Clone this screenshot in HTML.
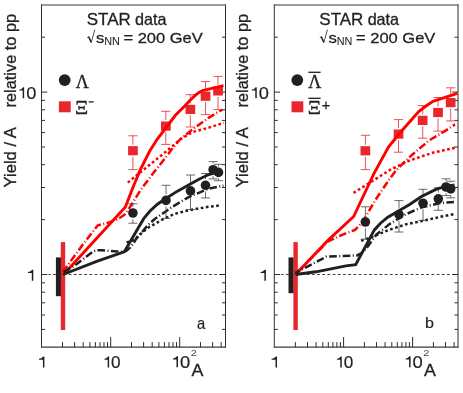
<!DOCTYPE html>
<html><head><meta charset="utf-8"><title>STAR data</title>
<style>
html,body{margin:0;padding:0;background:#fff;}
body{width:463px;height:393px;overflow:hidden;font-family:"Liberation Sans",sans-serif;}
svg{display:block;will-change:transform;}
</style></head><body>
<svg width="463" height="393" viewBox="0 0 463 393">
<rect width="463" height="393" fill="#fff"/>
<g transform="translate(0,0)">
<path d="M41.5,4.5 V347.6 M225.5,4.5 V347.6" fill="none" stroke="#2e2e2e" stroke-width="1"/>
<path d="M41.0,5.0 H226.0 M41.0,347.1 H226.0" fill="none" stroke="#3a3a3a" stroke-width="1.1"/>
<line x1="62.5" x2="62.5" y1="347.1" y2="342.1" stroke="#2e2e2e" stroke-width="1"/>
<line x1="74.6" x2="74.6" y1="347.1" y2="342.1" stroke="#2e2e2e" stroke-width="1"/>
<line x1="83.2" x2="83.2" y1="347.1" y2="342.1" stroke="#2e2e2e" stroke-width="1"/>
<line x1="89.9" x2="89.9" y1="347.1" y2="342.1" stroke="#2e2e2e" stroke-width="1"/>
<line x1="95.4" x2="95.4" y1="347.1" y2="342.1" stroke="#2e2e2e" stroke-width="1"/>
<line x1="100.0" x2="100.0" y1="347.1" y2="342.1" stroke="#2e2e2e" stroke-width="1"/>
<line x1="104.0" x2="104.0" y1="347.1" y2="342.1" stroke="#2e2e2e" stroke-width="1"/>
<line x1="107.5" x2="107.5" y1="347.1" y2="342.1" stroke="#2e2e2e" stroke-width="1"/>
<line x1="110.7" x2="110.7" y1="347.1" y2="337.1" stroke="#2e2e2e" stroke-width="1"/>
<line x1="131.5" x2="131.5" y1="347.1" y2="342.1" stroke="#2e2e2e" stroke-width="1"/>
<line x1="143.6" x2="143.6" y1="347.1" y2="342.1" stroke="#2e2e2e" stroke-width="1"/>
<line x1="152.2" x2="152.2" y1="347.1" y2="342.1" stroke="#2e2e2e" stroke-width="1"/>
<line x1="158.9" x2="158.9" y1="347.1" y2="342.1" stroke="#2e2e2e" stroke-width="1"/>
<line x1="164.4" x2="164.4" y1="347.1" y2="342.1" stroke="#2e2e2e" stroke-width="1"/>
<line x1="169.0" x2="169.0" y1="347.1" y2="342.1" stroke="#2e2e2e" stroke-width="1"/>
<line x1="173.0" x2="173.0" y1="347.1" y2="342.1" stroke="#2e2e2e" stroke-width="1"/>
<line x1="176.5" x2="176.5" y1="347.1" y2="342.1" stroke="#2e2e2e" stroke-width="1"/>
<line x1="179.7" x2="179.7" y1="347.1" y2="337.1" stroke="#2e2e2e" stroke-width="1"/>
<line x1="200.5" x2="200.5" y1="347.1" y2="342.1" stroke="#2e2e2e" stroke-width="1"/>
<line x1="212.6" x2="212.6" y1="347.1" y2="342.1" stroke="#2e2e2e" stroke-width="1"/>
<line x1="221.2" x2="221.2" y1="347.1" y2="342.1" stroke="#2e2e2e" stroke-width="1"/>
<line x1="41.5" x2="45.0" y1="329.4" y2="329.4" stroke="#2e2e2e" stroke-width="1"/>
<line x1="225.5" x2="222.0" y1="329.4" y2="329.4" stroke="#2e2e2e" stroke-width="1"/>
<line x1="41.5" x2="45.0" y1="315.0" y2="315.0" stroke="#2e2e2e" stroke-width="1"/>
<line x1="225.5" x2="222.0" y1="315.0" y2="315.0" stroke="#2e2e2e" stroke-width="1"/>
<line x1="41.5" x2="45.0" y1="302.8" y2="302.8" stroke="#2e2e2e" stroke-width="1"/>
<line x1="225.5" x2="222.0" y1="302.8" y2="302.8" stroke="#2e2e2e" stroke-width="1"/>
<line x1="41.5" x2="45.0" y1="292.2" y2="292.2" stroke="#2e2e2e" stroke-width="1"/>
<line x1="225.5" x2="222.0" y1="292.2" y2="292.2" stroke="#2e2e2e" stroke-width="1"/>
<line x1="41.5" x2="45.0" y1="282.8" y2="282.8" stroke="#2e2e2e" stroke-width="1"/>
<line x1="225.5" x2="222.0" y1="282.8" y2="282.8" stroke="#2e2e2e" stroke-width="1"/>
<line x1="41.5" x2="47.3" y1="274.5" y2="274.5" stroke="#2e2e2e" stroke-width="1"/>
<line x1="225.5" x2="219.7" y1="274.5" y2="274.5" stroke="#2e2e2e" stroke-width="1"/>
<line x1="41.5" x2="45.0" y1="219.6" y2="219.6" stroke="#2e2e2e" stroke-width="1"/>
<line x1="225.5" x2="222.0" y1="219.6" y2="219.6" stroke="#2e2e2e" stroke-width="1"/>
<line x1="41.5" x2="45.0" y1="187.5" y2="187.5" stroke="#2e2e2e" stroke-width="1"/>
<line x1="225.5" x2="222.0" y1="187.5" y2="187.5" stroke="#2e2e2e" stroke-width="1"/>
<line x1="41.5" x2="45.0" y1="164.7" y2="164.7" stroke="#2e2e2e" stroke-width="1"/>
<line x1="225.5" x2="222.0" y1="164.7" y2="164.7" stroke="#2e2e2e" stroke-width="1"/>
<line x1="41.5" x2="45.0" y1="147.0" y2="147.0" stroke="#2e2e2e" stroke-width="1"/>
<line x1="225.5" x2="222.0" y1="147.0" y2="147.0" stroke="#2e2e2e" stroke-width="1"/>
<line x1="41.5" x2="45.0" y1="132.6" y2="132.6" stroke="#2e2e2e" stroke-width="1"/>
<line x1="225.5" x2="222.0" y1="132.6" y2="132.6" stroke="#2e2e2e" stroke-width="1"/>
<line x1="41.5" x2="45.0" y1="120.4" y2="120.4" stroke="#2e2e2e" stroke-width="1"/>
<line x1="225.5" x2="222.0" y1="120.4" y2="120.4" stroke="#2e2e2e" stroke-width="1"/>
<line x1="41.5" x2="45.0" y1="109.8" y2="109.8" stroke="#2e2e2e" stroke-width="1"/>
<line x1="225.5" x2="222.0" y1="109.8" y2="109.8" stroke="#2e2e2e" stroke-width="1"/>
<line x1="41.5" x2="45.0" y1="100.4" y2="100.4" stroke="#2e2e2e" stroke-width="1"/>
<line x1="225.5" x2="222.0" y1="100.4" y2="100.4" stroke="#2e2e2e" stroke-width="1"/>
<line x1="41.5" x2="47.3" y1="92.1" y2="92.1" stroke="#2e2e2e" stroke-width="1"/>
<line x1="225.5" x2="219.7" y1="92.1" y2="92.1" stroke="#2e2e2e" stroke-width="1"/>
<line x1="41.5" x2="45.0" y1="37.2" y2="37.2" stroke="#2e2e2e" stroke-width="1"/>
<line x1="225.5" x2="222.0" y1="37.2" y2="37.2" stroke="#2e2e2e" stroke-width="1"/>
<line x1="48.4" x2="225.5" y1="274.5" y2="274.5" stroke="#231f20" stroke-width="0.85" stroke-dasharray="2.9,2.3" stroke-dashoffset="0.6"/>
<path d="M24.15,98.20 L22.68,98.20 L22.68,90.46 L19.20,90.46 L19.20,89.53 L21.18,89.15 L23.09,87.30 L24.15,87.30 Z" fill="#231f20"/><text transform="translate(26.18,98.50) scale(1.142,1.044)" font-family="Liberation Sans, sans-serif" font-size="16" fill="#231f20" stroke="#231f20" stroke-width="0.2">0</text>
<path d="M33.30,280.80 L31.80,280.80 L31.80,272.92 L28.00,272.92 L28.00,271.98 L30.12,271.59 L32.22,269.70 L33.30,269.70 Z" fill="#231f20"/>
<path d="M44.40,367.40 L42.93,367.40 L42.93,359.66 L39.00,359.66 L39.00,358.73 L41.16,358.35 L43.34,356.50 L44.40,356.50 Z" fill="#231f20"/>
<path d="M109.15,367.40 L107.68,367.40 L107.68,359.66 L104.50,359.66 L104.50,358.73 L106.36,358.35 L108.09,356.50 L109.15,356.50 Z" fill="#231f20"/><text transform="translate(111.06,367.70) scale(1.072,1.044)" font-family="Liberation Sans, sans-serif" font-size="16" fill="#231f20" stroke="#231f20" stroke-width="0.2">0</text>
<path d="M177.98,367.20 L176.49,367.20 L176.49,359.39 L173.00,359.39 L173.00,358.45 L174.99,358.07 L176.91,356.20 L177.98,356.20 Z" fill="#231f20"/><text transform="translate(180.02,367.50) scale(1.149,1.053)" font-family="Liberation Sans, sans-serif" font-size="16" fill="#231f20" stroke="#231f20" stroke-width="0.2">0</text>
<text transform="translate(190.68,356.40) scale(0.690,0.524)" font-family="Liberation Sans, sans-serif" font-size="16" fill="#231f20" stroke="#231f20" stroke-width="0" fill-opacity="0.85">2</text>
<text transform="translate(191.50,375.80) scale(1.114,1.031)" font-family="Liberation Sans, sans-serif" font-size="16" fill="#231f20" stroke="#231f20" stroke-width="0.3">A</text>
<text transform="translate(86.70,24.50) scale(1.062,0.978)" font-family="Liberation Sans, sans-serif" font-size="16" fill="#231f20" stroke="#231f20" stroke-width="0.3">STAR</text>
<text transform="translate(135.04,24.50) scale(1.010,0.979)" font-family="Liberation Sans, sans-serif" font-size="16" fill="#231f20" stroke="#231f20" stroke-width="0.3">data</text>
<path d="M87.2,37.7 L88.7,36.7" stroke="#231f20" stroke-width="0.8" fill="none"/><path d="M88.6,36.6 L91.2,42.2" stroke="#231f20" stroke-width="1.5" fill="none"/><path d="M91.1,43 L94.8,29.6" stroke="#231f20" stroke-width="0.8" fill="none"/>
<text transform="translate(95.98,43.00) scale(1.043,0.953)" font-family="Liberation Sans, sans-serif" font-size="16" fill="#231f20" stroke="#231f20" stroke-width="0.3">s</text>
<text transform="translate(104.15,45.40) scale(0.678,0.631)" font-family="Liberation Sans, sans-serif" font-size="16" fill="#231f20" stroke="#231f20" stroke-width="0.1">NN</text>
<text transform="translate(123.43,42.90) scale(1.032,0.969)" font-family="Liberation Sans, sans-serif" font-size="16" fill="#231f20" stroke="#231f20" stroke-width="0.3">= 200 GeV</text>
<text transform="translate(15.70,187.42) rotate(-90) scale(1.037,1.047)" font-family="Liberation Sans, sans-serif" font-size="16" fill="#231f20" stroke="#231f20" stroke-width="0.3">Yield / A</text>
<text transform="translate(15.80,107.42) rotate(-90) scale(1.021,1.013)" font-family="Liberation Sans, sans-serif" font-size="16" fill="#231f20" stroke="#231f20" stroke-width="0.3">relative to pp</text>
<text transform="translate(196.91,328.90) scale(0.921,1.012)" font-family="Liberation Sans, sans-serif" font-size="16" fill="#231f20" stroke="#231f20" stroke-width="0.2">a</text>
<circle cx="64.7" cy="80.1" r="5.9" fill="#231f20"/>
<rect x="58.9" y="101.3" width="11.8" height="11" fill="#e8262c"/>
<text transform="translate(75.72,87.70) scale(1.129,1.181)" font-family="Liberation Serif, serif" font-size="16" fill="#231f20" stroke="#231f20" stroke-width="0.3">Λ</text>
<text transform="translate(75.04,114.00) scale(1.280,1.200)" font-family="Liberation Serif, serif" font-size="16" fill="#231f20" stroke="#231f20" stroke-width="0.3">Ξ</text>
<line x1="88.7" x2="93.7" y1="101.9" y2="101.9" stroke="#231f20" stroke-width="1.3"/>
<rect x="55.9" y="257.4" width="5.2" height="38.8" fill="#231f20"/>
<rect x="60.8" y="242.1" width="4.4" height="87.9" fill="#e8262c"/>
<path d="M127.8,182.6 L138.0,174.2 L150.7,164.0 L168.5,149.5 L180.0,139.5 L192.0,132.3 L209.8,127.3 L223.8,122.9" fill="none" stroke="#ff0000" stroke-width="2.5" stroke-linejoin="round" stroke-miterlimit="3" stroke-dasharray="2.7,2.5" stroke-dashoffset="0"/>
<path d="M62.5,272.4 L81.4,246.4 L97.7,225.4 L108.9,222.5 L118.0,219.0 L124.5,214.8 L128.8,208.8 L141.0,189.4 L154.5,171.6 L168.5,153.8 L171.5,149.5 L180.0,139.5 L192.0,129.8 L208.5,117.8 L222.5,109.5" fill="none" stroke="#ff0000" stroke-width="2.5" stroke-linejoin="round" stroke-miterlimit="3" stroke-dasharray="7.6,2.45,1.0,2.45" stroke-dashoffset="13.07"/>
<path d="M128.3,135.8 H137.5 M128.3,169.6 H137.5 M132.9,135.8 V144.7 M132.9,156.7 V169.6" stroke="#e8262c" stroke-width="0.8" fill="none"/>
<path d="M161.2,111.3 H170.4 M161.2,144.4 H170.4 M165.8,111.3 V120.1 M165.8,132.1 V144.4" stroke="#e8262c" stroke-width="0.8" fill="none"/>
<path d="M185.7,94.7 H194.9 M185.7,127.0 H194.9 M190.3,94.7 V103.4 M190.3,115.4 V127.0" stroke="#e8262c" stroke-width="0.8" fill="none"/>
<path d="M200.9,81.6 H210.1 M200.9,114.6 H210.1 M205.5,81.6 V90.2 M205.5,102.2 V114.6" stroke="#e8262c" stroke-width="0.8" fill="none"/>
<path d="M213.4,76.4 H222.6 M213.4,109.6 H222.6 M218.0,76.4 V84.9 M218.0,96.9 V109.6" stroke="#e8262c" stroke-width="0.8" fill="none"/>
<rect x="128.1" y="146.1" width="9.7" height="9.2" fill="#e8262c"/>
<rect x="161.0" y="121.5" width="9.7" height="9.2" fill="#e8262c"/>
<rect x="185.5" y="104.8" width="9.7" height="9.2" fill="#e8262c"/>
<rect x="200.7" y="91.6" width="9.7" height="9.2" fill="#e8262c"/>
<rect x="213.2" y="86.3" width="9.7" height="9.2" fill="#e8262c"/>
<path d="M63.5,274.5 L125.4,206.9 L132.6,188.2 L140.0,170.4 L149.6,151.3 L157.5,138.8 L166.2,127.5 L175.4,115.3 L184.7,106.0 L189.6,100.8 L195.0,95.6 L198.5,92.7 L202.5,90.6 L223.5,85.6" fill="none" stroke="#ff0000" stroke-width="2.9" stroke-linejoin="miter" stroke-miterlimit="3" stroke-dashoffset="0"/>
<path d="M126.6,242.5 L132.0,240.6 L136.5,238.3 L142.2,232.5 L147.9,227.9 L154.8,223.9 L162.8,219.3 L175.0,213.7 L189.1,210.2 L208.2,206.8 L220.6,205.4" fill="none" stroke="#231f20" stroke-width="2.5" stroke-linejoin="round" stroke-miterlimit="3" stroke-dasharray="2.7,2.5" stroke-dashoffset="0"/>
<path d="M62.5,272.8 L76.4,264.3 L86.5,256.4 L93.0,251.6 L96.7,250.2 L102.0,250.3 L108.9,250.9 L117.0,251.5 L124.1,251.9 L127.0,250.4 L130.3,247.4 L133.5,243.3 L136.6,237.8 L140.0,233.8 L143.3,230.6 L147.9,225.0 L154.8,219.0 L165.0,212.0 L172.0,207.0 L189.1,196.9 L208.2,188.8 L223.5,185.6" fill="none" stroke="#231f20" stroke-width="2.5" stroke-linejoin="round" stroke-miterlimit="3" stroke-dasharray="7.6,2.45,1.0,2.45" stroke-dashoffset="12.07"/>
<path d="M128.4,203.8 H137.4 M128.4,223.2 H137.4 M132.9,203.8 V206.8 M132.9,219.2 V223.2" stroke="#454545" stroke-width="0.8" fill="none"/>
<path d="M161.5,185.3 H170.5 M161.5,218.4 H170.5 M166.0,185.3 V194.2 M166.0,206.6 V218.4" stroke="#454545" stroke-width="0.8" fill="none"/>
<path d="M186.0,175.0 H195.0 M186.0,209.5 H195.0 M190.5,175.0 V184.7 M190.5,197.1 V209.5" stroke="#454545" stroke-width="0.8" fill="none"/>
<path d="M201.0,173.5 H210.0 M201.0,197.9 H210.0 M205.5,173.5 V179.1 M205.5,191.5 V197.9" stroke="#454545" stroke-width="0.8" fill="none"/>
<path d="M208.6,161.6 H217.6 M208.6,178.9 H217.6 M213.1,161.6 V163.5 M213.1,175.9 V178.9" stroke="#454545" stroke-width="0.8" fill="none"/>
<path d="M214.0,164.3 H223.0 M214.0,180.7 H223.0 M218.5,164.3 V166.2 M218.5,178.6 V180.7" stroke="#454545" stroke-width="0.8" fill="none"/>
<circle cx="132.9" cy="213.0" r="4.8" fill="#231f20"/>
<circle cx="166.0" cy="200.4" r="4.8" fill="#231f20"/>
<circle cx="190.5" cy="190.9" r="4.8" fill="#231f20"/>
<circle cx="205.5" cy="185.3" r="4.8" fill="#231f20"/>
<circle cx="213.1" cy="169.7" r="4.8" fill="#231f20"/>
<circle cx="218.5" cy="172.4" r="4.8" fill="#231f20"/>
<path d="M63.0,274.5 L96.7,261.4 L124.2,251.9 L143.7,218.7 L150.0,211.0 L157.4,204.2 L165.5,198.8 L177.0,191.4 L189.1,184.7 L199.0,179.2 L208.2,174.8 L215.0,172.6 L222.0,171.2" fill="none" stroke="#231f20" stroke-width="2.9" stroke-linejoin="miter" stroke-miterlimit="3" stroke-dashoffset="0"/>
</g>
<g transform="translate(232.6,0)">
<path d="M41.7,4.5 V347.6 M225.4,4.5 V347.6" fill="none" stroke="#2e2e2e" stroke-width="1"/>
<path d="M41.2,5.0 H225.9 M41.2,347.1 H225.9" fill="none" stroke="#3a3a3a" stroke-width="1.1"/>
<line x1="62.8" x2="62.8" y1="347.1" y2="342.1" stroke="#2e2e2e" stroke-width="1"/>
<line x1="74.9" x2="74.9" y1="347.1" y2="342.1" stroke="#2e2e2e" stroke-width="1"/>
<line x1="83.5" x2="83.5" y1="347.1" y2="342.1" stroke="#2e2e2e" stroke-width="1"/>
<line x1="90.2" x2="90.2" y1="347.1" y2="342.1" stroke="#2e2e2e" stroke-width="1"/>
<line x1="95.7" x2="95.7" y1="347.1" y2="342.1" stroke="#2e2e2e" stroke-width="1"/>
<line x1="100.3" x2="100.3" y1="347.1" y2="342.1" stroke="#2e2e2e" stroke-width="1"/>
<line x1="104.3" x2="104.3" y1="347.1" y2="342.1" stroke="#2e2e2e" stroke-width="1"/>
<line x1="107.8" x2="107.8" y1="347.1" y2="342.1" stroke="#2e2e2e" stroke-width="1"/>
<line x1="111.0" x2="111.0" y1="347.1" y2="337.1" stroke="#2e2e2e" stroke-width="1"/>
<line x1="131.8" x2="131.8" y1="347.1" y2="342.1" stroke="#2e2e2e" stroke-width="1"/>
<line x1="143.9" x2="143.9" y1="347.1" y2="342.1" stroke="#2e2e2e" stroke-width="1"/>
<line x1="152.5" x2="152.5" y1="347.1" y2="342.1" stroke="#2e2e2e" stroke-width="1"/>
<line x1="159.2" x2="159.2" y1="347.1" y2="342.1" stroke="#2e2e2e" stroke-width="1"/>
<line x1="164.7" x2="164.7" y1="347.1" y2="342.1" stroke="#2e2e2e" stroke-width="1"/>
<line x1="169.3" x2="169.3" y1="347.1" y2="342.1" stroke="#2e2e2e" stroke-width="1"/>
<line x1="173.3" x2="173.3" y1="347.1" y2="342.1" stroke="#2e2e2e" stroke-width="1"/>
<line x1="176.8" x2="176.8" y1="347.1" y2="342.1" stroke="#2e2e2e" stroke-width="1"/>
<line x1="180.0" x2="180.0" y1="347.1" y2="337.1" stroke="#2e2e2e" stroke-width="1"/>
<line x1="200.8" x2="200.8" y1="347.1" y2="342.1" stroke="#2e2e2e" stroke-width="1"/>
<line x1="212.9" x2="212.9" y1="347.1" y2="342.1" stroke="#2e2e2e" stroke-width="1"/>
<line x1="221.5" x2="221.5" y1="347.1" y2="342.1" stroke="#2e2e2e" stroke-width="1"/>
<line x1="41.7" x2="45.2" y1="329.4" y2="329.4" stroke="#2e2e2e" stroke-width="1"/>
<line x1="225.4" x2="221.9" y1="329.4" y2="329.4" stroke="#2e2e2e" stroke-width="1"/>
<line x1="41.7" x2="45.2" y1="315.0" y2="315.0" stroke="#2e2e2e" stroke-width="1"/>
<line x1="225.4" x2="221.9" y1="315.0" y2="315.0" stroke="#2e2e2e" stroke-width="1"/>
<line x1="41.7" x2="45.2" y1="302.8" y2="302.8" stroke="#2e2e2e" stroke-width="1"/>
<line x1="225.4" x2="221.9" y1="302.8" y2="302.8" stroke="#2e2e2e" stroke-width="1"/>
<line x1="41.7" x2="45.2" y1="292.2" y2="292.2" stroke="#2e2e2e" stroke-width="1"/>
<line x1="225.4" x2="221.9" y1="292.2" y2="292.2" stroke="#2e2e2e" stroke-width="1"/>
<line x1="41.7" x2="45.2" y1="282.8" y2="282.8" stroke="#2e2e2e" stroke-width="1"/>
<line x1="225.4" x2="221.9" y1="282.8" y2="282.8" stroke="#2e2e2e" stroke-width="1"/>
<line x1="41.7" x2="47.5" y1="274.5" y2="274.5" stroke="#2e2e2e" stroke-width="1"/>
<line x1="225.4" x2="219.6" y1="274.5" y2="274.5" stroke="#2e2e2e" stroke-width="1"/>
<line x1="41.7" x2="45.2" y1="219.6" y2="219.6" stroke="#2e2e2e" stroke-width="1"/>
<line x1="225.4" x2="221.9" y1="219.6" y2="219.6" stroke="#2e2e2e" stroke-width="1"/>
<line x1="41.7" x2="45.2" y1="187.5" y2="187.5" stroke="#2e2e2e" stroke-width="1"/>
<line x1="225.4" x2="221.9" y1="187.5" y2="187.5" stroke="#2e2e2e" stroke-width="1"/>
<line x1="41.7" x2="45.2" y1="164.7" y2="164.7" stroke="#2e2e2e" stroke-width="1"/>
<line x1="225.4" x2="221.9" y1="164.7" y2="164.7" stroke="#2e2e2e" stroke-width="1"/>
<line x1="41.7" x2="45.2" y1="147.0" y2="147.0" stroke="#2e2e2e" stroke-width="1"/>
<line x1="225.4" x2="221.9" y1="147.0" y2="147.0" stroke="#2e2e2e" stroke-width="1"/>
<line x1="41.7" x2="45.2" y1="132.6" y2="132.6" stroke="#2e2e2e" stroke-width="1"/>
<line x1="225.4" x2="221.9" y1="132.6" y2="132.6" stroke="#2e2e2e" stroke-width="1"/>
<line x1="41.7" x2="45.2" y1="120.4" y2="120.4" stroke="#2e2e2e" stroke-width="1"/>
<line x1="225.4" x2="221.9" y1="120.4" y2="120.4" stroke="#2e2e2e" stroke-width="1"/>
<line x1="41.7" x2="45.2" y1="109.8" y2="109.8" stroke="#2e2e2e" stroke-width="1"/>
<line x1="225.4" x2="221.9" y1="109.8" y2="109.8" stroke="#2e2e2e" stroke-width="1"/>
<line x1="41.7" x2="45.2" y1="100.4" y2="100.4" stroke="#2e2e2e" stroke-width="1"/>
<line x1="225.4" x2="221.9" y1="100.4" y2="100.4" stroke="#2e2e2e" stroke-width="1"/>
<line x1="41.7" x2="47.5" y1="92.1" y2="92.1" stroke="#2e2e2e" stroke-width="1"/>
<line x1="225.4" x2="219.6" y1="92.1" y2="92.1" stroke="#2e2e2e" stroke-width="1"/>
<line x1="41.7" x2="45.2" y1="37.2" y2="37.2" stroke="#2e2e2e" stroke-width="1"/>
<line x1="225.4" x2="221.9" y1="37.2" y2="37.2" stroke="#2e2e2e" stroke-width="1"/>
<line x1="48.6" x2="225.4" y1="274.5" y2="274.5" stroke="#231f20" stroke-width="0.85" stroke-dasharray="2.9,2.3" stroke-dashoffset="0.6"/>
<path d="M24.15,98.20 L22.68,98.20 L22.68,90.46 L19.20,90.46 L19.20,89.53 L21.18,89.15 L23.09,87.30 L24.15,87.30 Z" fill="#231f20"/><text transform="translate(26.18,98.50) scale(1.142,1.044)" font-family="Liberation Sans, sans-serif" font-size="16" fill="#231f20" stroke="#231f20" stroke-width="0.2">0</text>
<path d="M33.30,280.80 L31.80,280.80 L31.80,272.92 L28.00,272.92 L28.00,271.98 L30.12,271.59 L32.22,269.70 L33.30,269.70 Z" fill="#231f20"/>
<path d="M44.40,367.40 L42.93,367.40 L42.93,359.66 L39.00,359.66 L39.00,358.73 L41.16,358.35 L43.34,356.50 L44.40,356.50 Z" fill="#231f20"/>
<path d="M109.15,367.40 L107.68,367.40 L107.68,359.66 L104.50,359.66 L104.50,358.73 L106.36,358.35 L108.09,356.50 L109.15,356.50 Z" fill="#231f20"/><text transform="translate(111.06,367.70) scale(1.072,1.044)" font-family="Liberation Sans, sans-serif" font-size="16" fill="#231f20" stroke="#231f20" stroke-width="0.2">0</text>
<path d="M177.98,367.20 L176.49,367.20 L176.49,359.39 L173.00,359.39 L173.00,358.45 L174.99,358.07 L176.91,356.20 L177.98,356.20 Z" fill="#231f20"/><text transform="translate(180.02,367.50) scale(1.149,1.053)" font-family="Liberation Sans, sans-serif" font-size="16" fill="#231f20" stroke="#231f20" stroke-width="0.2">0</text>
<text transform="translate(190.68,356.40) scale(0.690,0.524)" font-family="Liberation Sans, sans-serif" font-size="16" fill="#231f20" stroke="#231f20" stroke-width="0" fill-opacity="0.85">2</text>
<text transform="translate(191.50,375.80) scale(1.114,1.031)" font-family="Liberation Sans, sans-serif" font-size="16" fill="#231f20" stroke="#231f20" stroke-width="0.3">A</text>
<text transform="translate(86.70,24.50) scale(1.062,0.978)" font-family="Liberation Sans, sans-serif" font-size="16" fill="#231f20" stroke="#231f20" stroke-width="0.3">STAR</text>
<text transform="translate(135.04,24.50) scale(1.010,0.979)" font-family="Liberation Sans, sans-serif" font-size="16" fill="#231f20" stroke="#231f20" stroke-width="0.3">data</text>
<path d="M87.2,37.7 L88.7,36.7" stroke="#231f20" stroke-width="0.8" fill="none"/><path d="M88.6,36.6 L91.2,42.2" stroke="#231f20" stroke-width="1.5" fill="none"/><path d="M91.1,43 L94.8,29.6" stroke="#231f20" stroke-width="0.8" fill="none"/>
<text transform="translate(95.98,43.00) scale(1.043,0.953)" font-family="Liberation Sans, sans-serif" font-size="16" fill="#231f20" stroke="#231f20" stroke-width="0.3">s</text>
<text transform="translate(104.15,45.40) scale(0.678,0.631)" font-family="Liberation Sans, sans-serif" font-size="16" fill="#231f20" stroke="#231f20" stroke-width="0.1">NN</text>
<text transform="translate(123.43,42.90) scale(1.032,0.969)" font-family="Liberation Sans, sans-serif" font-size="16" fill="#231f20" stroke="#231f20" stroke-width="0.3">= 200 GeV</text>
<text transform="translate(15.70,187.42) rotate(-90) scale(1.037,1.047)" font-family="Liberation Sans, sans-serif" font-size="16" fill="#231f20" stroke="#231f20" stroke-width="0.3">Yield / A</text>
<text transform="translate(15.80,107.42) rotate(-90) scale(1.021,1.013)" font-family="Liberation Sans, sans-serif" font-size="16" fill="#231f20" stroke="#231f20" stroke-width="0.3">relative to pp</text>
<text transform="translate(192.29,328.00) scale(1.007,0.962)" font-family="Liberation Sans, sans-serif" font-size="16" fill="#231f20" stroke="#231f20" stroke-width="0.2">b</text>
<circle cx="64.7" cy="80.1" r="5.9" fill="#231f20"/>
<rect x="58.9" y="101.3" width="11.8" height="11" fill="#e8262c"/>
<text transform="translate(75.72,87.70) scale(1.129,1.181)" font-family="Liberation Serif, serif" font-size="16" fill="#231f20" stroke="#231f20" stroke-width="0.3">Λ</text>
<text transform="translate(75.04,114.00) scale(1.280,1.200)" font-family="Liberation Serif, serif" font-size="16" fill="#231f20" stroke="#231f20" stroke-width="0.3">Ξ</text>
<line x1="75.8" x2="88" y1="72.3" y2="72.3" stroke="#231f20" stroke-width="1.3"/>
<line x1="75.8" x2="88" y1="98.3" y2="98.3" stroke="#231f20" stroke-width="1.3"/>
<text transform="translate(89.22,109.91) scale(0.903,0.875)" font-family="Liberation Sans, sans-serif" font-size="16" fill="#231f20" stroke="#231f20" stroke-width="0.3">+</text>
<rect x="55.9" y="257.4" width="5.2" height="35.8" fill="#231f20"/>
<rect x="60.8" y="242.1" width="4.4" height="87.9" fill="#e8262c"/>
<path d="M120.9,192.9 L139.9,181.0 L157.0,170.2 L177.4,160.3 L200.3,152.7 L222.4,147.8" fill="none" stroke="#ff0000" stroke-width="2.5" stroke-linejoin="round" stroke-miterlimit="3" stroke-dasharray="2.7,2.5" stroke-dashoffset="0"/>
<path d="M63.0,274.0 L95.1,241.6 L110.1,234.6 L122.2,230.0 L126.9,225.5 L133.2,216.5 L142.2,200.9 L155.9,180.5 L163.1,170.8 L171.9,161.8 L178.4,155.8 L196.5,140.4 L213.0,130.6 L222.4,124.4" fill="none" stroke="#ff0000" stroke-width="2.5" stroke-linejoin="round" stroke-miterlimit="3" stroke-dasharray="7.6,2.45,1.0,2.45" stroke-dashoffset="9.22"/>
<path d="M128.2,135.3 H137.4 M128.2,169.6 H137.4 M132.8,135.3 V144.8 M132.8,156.8 V169.6" stroke="#e8262c" stroke-width="0.8" fill="none"/>
<path d="M161.3,119.6 H170.5 M161.3,152.2 H170.5 M165.9,119.6 V128.1 M165.9,140.1 V152.2" stroke="#e8262c" stroke-width="0.8" fill="none"/>
<path d="M185.5,105.6 H194.7 M185.5,138.2 H194.7 M190.1,105.6 V114.4 M190.1,126.4 V138.2" stroke="#e8262c" stroke-width="0.8" fill="none"/>
<path d="M200.8,97.5 H210.0 M200.8,131.1 H210.0 M205.4,97.5 V106.5 M205.4,118.5 V131.1" stroke="#e8262c" stroke-width="0.8" fill="none"/>
<path d="M213.5,87.8 H222.7 M213.5,120.9 H222.7 M218.1,87.8 V96.6 M218.1,108.6 V120.9" stroke="#e8262c" stroke-width="0.8" fill="none"/>
<rect x="127.9" y="146.2" width="9.7" height="9.2" fill="#e8262c"/>
<rect x="161.1" y="129.5" width="9.7" height="9.2" fill="#e8262c"/>
<rect x="185.2" y="115.8" width="9.7" height="9.2" fill="#e8262c"/>
<rect x="200.6" y="107.9" width="9.7" height="9.2" fill="#e8262c"/>
<rect x="213.2" y="98.0" width="9.7" height="9.2" fill="#e8262c"/>
<path d="M63.0,274.5 L95.1,240.6 L121.1,216.5 L131.2,195.0 L141.3,173.6 L156.0,146.8 L169.2,130.8 L186.1,111.6 L193.4,106.0 L200.4,101.3 L224.8,93.4" fill="none" stroke="#ff0000" stroke-width="2.9" stroke-linejoin="miter" stroke-miterlimit="3" stroke-dashoffset="0"/>
<path d="M128.5,240.8 L139.9,236.8 L155.2,230.3 L173.0,224.4 L188.5,221.2 L207.6,216.9 L222.4,214.0" fill="none" stroke="#231f20" stroke-width="2.5" stroke-linejoin="round" stroke-miterlimit="3" stroke-dasharray="2.7,2.5" stroke-dashoffset="0"/>
<path d="M62.5,273.0 L93.6,256.7 L124.6,255.4 L128.9,253.0 L135.0,246.7 L143.8,234.5 L157.7,223.6 L173.0,214.4 L188.5,207.6 L207.6,203.1 L222.9,201.8" fill="none" stroke="#231f20" stroke-width="2.5" stroke-linejoin="round" stroke-miterlimit="3" stroke-dasharray="7.6,2.45,1.0,2.45" stroke-dashoffset="2.37"/>
<path d="M128.3,206.8 H137.3 M128.3,239.2 H137.3 M132.8,206.8 V215.8 M132.8,228.2 V239.2" stroke="#454545" stroke-width="0.8" fill="none"/>
<path d="M161.9,200.6 H170.9 M161.9,232.0 H170.9 M166.4,200.6 V208.4 M166.4,220.8 V232.0" stroke="#454545" stroke-width="0.8" fill="none"/>
<path d="M185.9,189.3 H194.9 M185.9,220.4 H194.9 M190.4,189.3 V197.0 M190.4,209.4 V220.4" stroke="#454545" stroke-width="0.8" fill="none"/>
<path d="M201.2,187.9 H210.2 M201.2,210.3 H210.2 M205.7,187.9 V192.6 M205.7,205.0 V210.3" stroke="#454545" stroke-width="0.8" fill="none"/>
<path d="M208.9,178.8 H217.9 M208.9,195.6 H217.9 M213.4,178.8 V180.8 M213.4,193.2 V195.6" stroke="#454545" stroke-width="0.8" fill="none"/>
<path d="M213.6,181.2 H222.6 M213.6,197.9 H222.6 M218.1,181.2 V182.7 M218.1,195.1 V197.9" stroke="#454545" stroke-width="0.8" fill="none"/>
<circle cx="132.8" cy="222.0" r="4.8" fill="#231f20"/>
<circle cx="166.4" cy="214.6" r="4.8" fill="#231f20"/>
<circle cx="190.4" cy="203.2" r="4.8" fill="#231f20"/>
<circle cx="205.7" cy="198.8" r="4.8" fill="#231f20"/>
<circle cx="213.4" cy="187.0" r="4.8" fill="#231f20"/>
<circle cx="218.1" cy="188.9" r="4.8" fill="#231f20"/>
<path d="M63.0,274.5 L83.4,271.8 L113.4,265.9 L123.1,264.7 L141.8,229.9 L147.9,223.2 L155.2,217.2 L165.9,210.9 L177.4,204.2 L188.5,196.8 L203.8,189.1 L212.4,186.7 L221.9,185.0" fill="none" stroke="#231f20" stroke-width="2.9" stroke-linejoin="miter" stroke-miterlimit="3" stroke-dashoffset="0"/>
</g>
</svg>
</body></html>
